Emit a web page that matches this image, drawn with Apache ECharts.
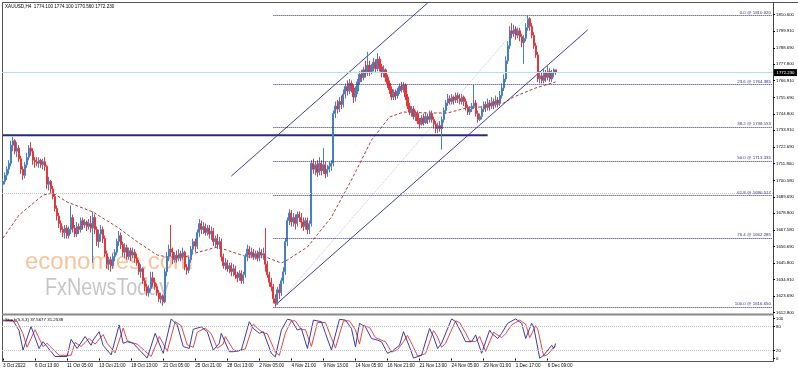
<!DOCTYPE html>
<html><head><meta charset="utf-8">
<script src="https://cdn.jsdelivr.net/npm/echarts@6/dist/echarts.min.js"></script>
<style>html,body{margin:0;padding:0;background:#fff}#c{width:798px;height:372px}</style>
</head><body><div id="c"></div>
<script>
// ---------- data ----------
const timeLabels = ["3 Oct 2022","6 Oct 13:00","11 Oct 05:00","13 Oct 21:00","18 Oct 13:00","21 Oct 05:00","25 Oct 21:00","28 Oct 13:00","2 Nov 05:00","4 Nov 21:00","9 Nov 13:00","14 Nov 05:00","16 Nov 21:00","21 Nov 13:00","24 Nov 05:00","29 Nov 01:00","1 Dec 17:00","6 Dec 09:00"];
const yTickValues = [1612.8,1623.69,1634.91,1645.8,1656.69,1667.58,1678.8,1689.69,1700.58,1711.8,1722.69,1733.91,1744.8,1755.69,1766.91,1777.8,1788.69,1799.91,1810.6];
const stochTicks = [0,20,80,100];
// [open, close, low, high]
const candles = [
[1698,1700,1695,1702],[1700,1704,1698,1706],[1704,1708,1701,1710],[1708,1712,1705,1714],[1712,1724,1710,1727],
[1724,1727,1720,1729.5],[1727,1720,1718,1728],[1720,1722,1716,1726],[1722,1715,1713,1724],[1715,1708,1705,1717],
[1708,1704,1701,1710],[1704,1711,1702,1713],[1711,1716,1709,1719],[1716,1722,1714,1724],[1722,1720,1717,1726],
[1720,1714,1711,1722],[1714,1713,1709,1716],[1713,1712,1710,1716],[1712,1714,1709,1716],[1714,1711,1709,1715],
[1711,1713,1708,1715],[1713,1710,1707,1716],[1710,1698,1695,1711],[1698,1700,1694,1703],[1700,1695,1692,1701],
[1695,1690,1688,1697],[1690,1682,1680,1692],[1682,1677,1674,1684],[1677,1672,1669,1679],[1672,1668,1666,1674],
[1668,1666,1663,1670],[1666,1669,1662,1671],[1669,1664,1662,1671],[1664,1668,1662,1670],[1668,1676,1665,1684],
[1676,1669,1666,1678],[1669,1665,1663,1671],[1665,1670,1663,1673],[1670,1668,1665,1672],[1668,1674,1666,1676],
[1674,1671,1668,1676],[1671,1673,1669,1675],[1673,1670,1667,1674],[1670,1672,1668,1675],[1672,1669,1666,1677],
[1669,1676,1646,1680],[1676,1668,1665,1678],[1668,1660,1657,1670],[1660,1665,1656,1668],[1665,1668,1660,1671],
[1668,1662,1659,1670],[1662,1652,1650,1664],[1652,1645,1642,1654],[1645,1648,1641,1650],[1648,1644,1640,1650],
[1644,1650,1642,1652],[1650,1653,1647,1655],[1653,1660,1651,1662],[1660,1664,1657,1667],[1664,1658,1655,1666],
[1658,1653,1650,1660],[1653,1656,1649,1659],[1656,1650,1648,1658],[1650,1654,1648,1656],[1654,1651,1647,1656],
[1651,1653,1649,1656],[1653,1649,1646,1655],[1649,1646,1644,1652],[1646,1640,1638,1648],[1640,1642,1636,1645],
[1642,1634,1632,1643],[1634,1630,1627,1636],[1630,1626,1624,1632],[1626,1629,1623.5,1631],[1629,1636,1627,1640],
[1636,1633,1630,1640],[1633,1630,1628,1636],[1630,1626,1624,1632],[1626,1622,1620,1628],[1622,1624,1619,1626],
[1624,1620,1617.5,1625],[1620,1640,1619,1642],[1640,1650,1637,1653],[1650,1655,1647,1658],[1655,1653,1650,1671],
[1653,1648,1645,1656],[1648,1651,1646,1653],[1651,1649,1646,1654],[1649,1652,1647,1655],[1652,1650,1647,1654],
[1650,1653,1648,1656],[1653,1643,1641,1654],[1643,1641,1638,1645],[1641,1648,1639,1650],[1648,1655,1646,1657],
[1655,1660,1652,1662],[1660,1657,1653,1662],[1657,1666,1655,1668],[1666,1672,1663,1675],[1672,1668,1665,1674],
[1668,1670,1665,1673],[1670,1666,1664,1672],[1666,1669,1664,1671],[1669,1665,1662,1671],[1665,1667,1661,1670],
[1667,1660,1657,1669],[1660,1662,1656,1664],[1662,1658,1655,1665],[1658,1660,1655,1663],[1660,1650,1647,1662],
[1650,1644,1642,1652],[1644,1646,1641,1649],[1646,1642,1640,1648],[1642,1644,1639,1646],[1644,1640,1637,1646],
[1640,1642,1637,1645],[1642,1638,1635,1644],[1638,1636,1633,1640],[1636,1639,1634,1641],[1639,1634,1632,1641],
[1634,1638,1632,1640],[1638,1650,1636,1652],[1650,1655,1647,1658],[1655,1651,1649,1657],[1651,1653,1649,1656],
[1653,1650,1648,1655],[1650,1652,1648,1654],[1652,1649,1647,1654],[1649,1653,1647,1656],[1653,1651,1649,1655],
[1651,1652,1648,1656],[1652,1645,1640,1669],[1645,1638,1636,1647],[1638,1633,1630,1640],[1633,1630,1627,1636],
[1630,1622,1619,1632],[1622,1619,1616.65,1625],[1619,1628,1618,1630],[1628,1626,1622,1632],[1626,1634,1624,1636],
[1634,1640,1632,1643],[1640,1660,1638,1662],[1660,1674,1657,1676],[1674,1679,1671,1681.5],[1679,1673,1670,1681],
[1673,1676,1670,1679],[1676,1672,1668,1678],[1672,1678,1670,1680],[1678,1676,1673,1680],[1676,1673,1669,1679],
[1673,1670,1667,1676],[1670,1674,1668,1676],[1674,1668,1665,1676],[1668,1672,1665,1674],[1672,1712,1670,1714],
[1712,1708,1705,1715],[1708,1711,1704,1713],[1711,1706,1703,1714],[1706,1712,1704,1716],[1712,1707,1704,1714],
[1707,1711,1705,1722],[1711,1705,1702,1713],[1705,1708,1703,1711],[1708,1710,1706,1713],[1710,1712,1707,1714],
[1712,1745,1710,1747],[1745,1750,1742,1753],[1750,1748,1745,1754],[1748,1753,1746,1756],[1753,1751,1748,1757],
[1751,1758,1749,1761],[1758,1763,1755,1765],[1763,1760,1757,1767],[1760,1765,1758,1768],[1765,1762,1759,1767],
[1762,1756,1752,1764],[1756,1760,1753,1763],[1760,1766,1758,1768],[1766,1771,1764,1773],[1771,1769,1766,1774],
[1769,1774,1767,1776],[1774,1772,1769,1780],[1772,1777,1770,1786],[1777,1773,1770,1780],[1773,1776,1771,1778],
[1776,1779,1773,1782],[1779,1775,1772,1781],[1775,1781,1773,1785],[1781,1776,1773,1783],[1776,1772,1769,1778],
[1772,1774,1769,1777],[1774,1769,1766,1775],[1769,1765,1762,1771],[1765,1761,1758,1767],[1761,1756,1754,1763],
[1756,1759,1754,1761],[1759,1757,1754,1761],[1757,1760,1755,1762],[1760,1763,1758,1765],[1763,1761,1759,1766],
[1761,1764,1759,1766],[1764,1756,1754,1765],[1756,1750,1748,1758],[1750,1746,1744,1752],[1746,1748,1743,1750],
[1748,1743,1741,1750],[1743,1745,1740,1747],[1745,1740,1738,1747],[1740,1738,1735,1742],[1738,1742,1737,1744],
[1742,1739,1737,1745],[1739,1743,1738,1746],[1743,1741,1738,1745],[1741,1745,1739,1747],[1745,1741,1739,1747],
[1741,1738,1735,1743],[1738,1735,1732,1740],[1735,1737,1732,1739],[1737,1735,1733,1740],[1735,1741,1721,1743],
[1741,1747,1739,1749],[1747,1752,1745,1754],[1752,1755,1750,1758],[1755,1753,1751,1757],[1753,1756,1751,1758],
[1756,1754,1751,1757],[1754,1757,1752,1759],[1757,1755,1752,1759],[1755,1753,1751,1758],[1753,1756,1751,1758],
[1756,1753,1750,1757],[1753,1749,1747,1755],[1749,1746,1744,1751],[1746,1748,1744,1750],[1748,1750,1746,1752],
[1750,1752,1748,1764],[1752,1745,1743,1754],[1745,1741,1739,1747],[1741,1743,1740,1745],[1743,1748,1741,1750],
[1748,1751,1746,1753],[1751,1749,1746,1753],[1749,1752,1747,1755],[1752,1750,1747,1754],[1750,1753,1748,1756],
[1753,1751,1748,1755],[1751,1754,1749,1757],[1754,1752,1749,1756],[1752,1757,1750,1760],[1757,1762,1755,1765],
[1762,1768,1760,1771],[1768,1780,1766,1783],[1780,1790,1778,1793],[1790,1800,1788,1803],[1800,1798,1795,1805],
[1798,1801,1796,1804],[1801,1797,1794,1803],[1797,1800,1795,1802],[1800,1796,1793,1802],[1796,1792,1789,1798],
[1792,1795,1778,1797],[1795,1802,1793,1805],[1802,1808,1800,1810.02],[1808,1803,1800,1809],[1803,1797,1795,1805],
[1797,1790,1788,1799],[1790,1784,1782,1792],[1784,1768,1766,1786],[1768,1770,1765,1773],[1770,1767,1765,1772],
[1767,1772,1765,1775],[1772,1769,1766,1774],[1769,1773,1767,1777],[1773,1768,1766,1775],[1768,1772,1766,1774],
[1772,1774.1,1769,1775],[1774.1,1772.23,1770.56,1774.1]
];
// moving average read at sample bars [bar, price]
const maPoints = [[0,1662.3],[8,1677.6],[20,1690.9],[25,1692.2],[32,1686.3],[45,1679.6],[57,1669.7],[68,1659.0],[77,1651.1],[82,1649.8],[91,1649.8],[96,1652.4],[107,1656.4],[122,1649.8],[131,1649.8],[139,1645.8],[142,1647.8],[152,1656.4],[164,1676.3],[174,1700.9],[184,1727.4],[193,1742.7],[200,1746.0],[213,1745.4],[222,1745.4],[233,1749.3],[240,1749.3],[250,1752.0],[255,1756.0],[266,1762.0],[276,1766.0]];
// stochastic %K (main) and %D (signal) turning points [bar, value]
const stochK = [[0,96],[5,95],[8,70],[10,21],[14,80],[18,25],[20,42],[26,5],[32,5],[34,48],[37,25],[41,55],[44,33],[45,46],[48,67],[50,33],[54,9],[58,84],[60,38],[62,42],[65,38],[72,1],[76,63],[79,25],[80,13],[84,99],[87,84],[90,30],[93,25],[95,73],[99,79],[102,67],[105,21],[108,38],[109,63],[113,17],[115,17],[119,21],[123,92],[125,75],[128,63],[130,67],[134,13],[136,4],[139,71],[142,98],[144,96],[147,71],[149,75],[152,25],[155,96],[159,92],[161,63],[164,21],[168,98],[171,96],[174,75],[176,29],[178,88],[181,79],[184,50],[187,46],[189,42],[192,13],[195,21],[198,33],[200,67],[203,29],[205,1],[209,8],[213,75],[215,54],[217,25],[219,38],[224,99],[226,92],[229,63],[231,42],[234,42],[236,59],[239,13],[243,71],[244,63],[247,50],[249,63],[252,88],[256,99],[259,88],[261,50],[264,88],[265,79],[268,1],[270,8],[274,33],[275,25],[276,37.5677]];
const stochD = [[0,94],[7,93],[10,62],[12,28],[16,72],[20,30],[22,38],[28,8],[34,8],[36,40],[39,30],[43,50],[46,36],[47,42],[50,60],[52,38],[56,14],[60,76],[62,45],[64,40],[67,36],[74,5],[78,55],[81,28],[82,18],[86,92],[89,82],[92,34],[95,28],[97,66],[101,76],[104,62],[107,26],[110,36],[111,55],[115,22],[117,18],[121,24],[125,86],[127,76],[130,64],[132,62],[136,16],[138,8],[141,64],[144,94],[146,94],[149,72],[151,72],[154,30],[157,90],[161,90],[163,64],[166,26],[170,94],[173,94],[176,72],[178,36],[180,82],[183,78],[186,52],[189,46],[191,42],[194,16],[197,22],[200,42],[202,58],[205,28],[207,6],[211,12],[215,70],[217,54],[219,28],[221,38],[226,94],[228,90],[231,64],[233,44],[236,42],[238,55],[241,18],[245,66],[246,62],[249,52],[251,62],[254,84],[258,96],[261,86],[263,52],[266,82],[267,74],[270,6],[272,10],[275,28],[276,31.2538]];
const fibLevels = [["0.0",1810.020],["23.6",1764.385],["38.2",1736.153],["50.0",1713.335],["61.8",1690.517],["76.4",1662.285],["100.0",1616.650]];
const fibStartBar = 135, fibEndBar = 384;
const lowerChannel = [[136,1617.9],[292,1800.6]];
const upperChannel = [[114,1703.5],[212,1818.4]];
const fibTrend = [[136,1616.65],[262,1810.02]];
const resistance = [[0,1730.6],[241.5,1730.6]];
const bidPrice = 1772.23, greyLevel = 1692.0;
const header = "XAUUSD,H4  1774.100 1774.100 1770.560 1772.230";
const stochHeader = "Stoch(5,3,3) 37.5677 31.2538";

// ---------- chart ----------
const NCAT = 385;
const cats = []; for (let i = 0; i < NCAT; i++) cats.push(String(i));
const F = '"Liberation Sans", Arial, sans-serif';
const navy = '#2e2e8c';
const bull = '#4680c2', bear = '#e2383b';
const isLbl = (i) => i % 16 === 0 && i <= 272;

const fibMark = fibLevels.map(([pct, v]) => [
  {coord: [fibStartBar, v]},
  {coord: [fibEndBar, v], label: {show: true, position: 'insideEndTop', distance: 1,
    formatter: pct + ' @ ' + v.toFixed(3), color: navy, fontSize: 4.4, fontFamily: F}}
]);

const lineSeries = (data, color, width, type, extra) => Object.assign({
  type: 'line', xAxisIndex: 0, yAxisIndex: 0, data, showSymbol: false, symbol: 'none',
  silent: true, lineStyle: {color, width, type}, z: 3
}, extra || {});

const chart = echarts.init(document.getElementById('c'), null, {renderer: 'canvas'});
chart.setOption({
  animation: false,
  backgroundColor: '#fff',
  grid: [{left: 2, top: 3, width: 771, height: 311}, {left: 2, top: 315, width: 771, height: 46}],
  xAxis: [
    {type: 'category', gridIndex: 0, data: cats, boundaryGap: true,
     axisLine: {show: false}, axisTick: {show: false}, axisLabel: {show: false}, splitLine: {show: false}},
    {type: 'category', gridIndex: 1, data: cats, boundaryGap: true,
     axisLine: {show: false},
     axisTick: {show: true, alignWithLabel: true, interval: isLbl, length: 2, lineStyle: {color: '#000', width: 1}},
     axisLabel: {show: true, interval: isLbl, formatter: (v, i) => timeLabels[i / 16] || '',
       fontSize: 4.6, color: '#000', align: 'left', margin: 2, fontFamily: F},
     splitLine: {show: false}}
  ],
  yAxis: [
    {type: 'value', gridIndex: 0, position: 'right', min: 1611.94, max: 1818.4,
     splitLine: {show: false}, axisLine: {show: false},
     axisTick: {show: true, length: 2, customValues: yTickValues, lineStyle: {color: '#000'}},
     axisLabel: {show: true, customValues: yTickValues, formatter: (v) => Number(v).toFixed(3),
       fontSize: 4.3, color: '#000', margin: 3, fontFamily: F}},
    {type: 'value', gridIndex: 1, position: 'right', min: -6.25, max: 108.75,
     splitLine: {show: false}, axisLine: {show: false},
     axisTick: {show: true, length: 2, customValues: stochTicks, lineStyle: {color: '#000'}},
     axisLabel: {show: true, customValues: stochTicks, formatter: (v) => String(v),
       fontSize: 4.3, color: '#000', margin: 3, fontFamily: F}}
  ],
  series: [
    {type: 'candlestick', xAxisIndex: 0, yAxisIndex: 0, data: candles, barWidth: 1.6, z: 4,
     itemStyle: {color: bull, color0: bear, borderColor: bull, borderColor0: bear, borderWidth: 1},
     markLine: {silent: true, symbol: ['none', 'none'], animation: false,
       data: [
         {yAxis: bidPrice, lineStyle: {color: '#b4e2e2', width: 1, type: 'solid'},
          label: {show: true, position: 'end', formatter: '1772.230', color: '#fff', backgroundColor: '#000',
            fontSize: 4.3, padding: [1.5, 2.5], distance: 1, fontFamily: F}},
         {yAxis: greyLevel, lineStyle: {color: '#cbbfc6', width: 1, type: [1, 1]}, label: {show: false}}
       ].concat(fibMark.map(d => d)),
       lineStyle: {color: navy, width: 1, type: [1, 1]}, label: {show: false}}
    },
    lineSeries(maPoints, '#b03a3a', 1, [3, 2], {connectNulls: true, z: 2}),
    lineSeries(fibTrend, '#c8c8d0', 1, [1, 1], {z: 1}),
    lineSeries(lowerChannel, '#3d3d9e', 1, 'solid'),
    lineSeries(upperChannel, '#3d3d9e', 1, 'solid'),
    lineSeries(resistance, '#2b2b7a', 2, 'solid'),
    {type: 'line', xAxisIndex: 1, yAxisIndex: 1, data: stochD, showSymbol: false, symbol: 'none', silent: true,
     lineStyle: {color: '#e04848', width: 1}, z: 3,
     markLine: {silent: true, symbol: ['none', 'none'], label: {show: false},
       lineStyle: {color: '#c4c4c4', width: 1, type: [1, 1]}, data: [{yAxis: 80}, {yAxis: 20}]}},
    {type: 'line', xAxisIndex: 1, yAxisIndex: 1, data: stochK, showSymbol: false, symbol: 'none', silent: true,
     lineStyle: {color: '#3c3ca6', width: 1}, z: 4}
  ],
  graphic: [
    {type: 'text', x: 25, y: 274, z: 0, style: {text: 'economies.com', font: '24px ' + F, fill: 'rgba(244,170,115,0.7)', verticalAlign: 'bottom'}},
    {type: 'text', x: 45, y: 300, z: 0, scaleX: 0.86, style: {text: 'FxNewsToday', font: '23px ' + F, fill: 'rgba(160,160,160,0.6)', verticalAlign: 'bottom'}},
    {type: 'text', x: 5, y: 6.5, style: {text: header, font: '4.6px ' + F, fill: '#000', verticalAlign: 'middle'}},
    {type: 'text', x: 5, y: 320, z: 10, style: {text: stochHeader, font: '4.4px ' + F, fill: '#000', verticalAlign: 'middle'}},
    {type: 'line', shape: {x1: 2, y1: 2.5, x2: 798, y2: 2.5}, style: {stroke: '#555', lineWidth: 1}},
    {type: 'line', shape: {x1: 2.5, y1: 2, x2: 2.5, y2: 362}, style: {stroke: '#555', lineWidth: 1}},
    {type: 'line', shape: {x1: 773.5, y1: 2, x2: 773.5, y2: 362}, style: {stroke: '#444', lineWidth: 1}},
    {type: 'line', shape: {x1: 2, y1: 361.5, x2: 774, y2: 361.5}, style: {stroke: '#555', lineWidth: 1}},
    {type: 'line', shape: {x1: 2, y1: 314.5, x2: 774, y2: 314.5}, style: {stroke: '#8a8a8a', lineWidth: 2}}
  ]
});
</script>
</body></html>
